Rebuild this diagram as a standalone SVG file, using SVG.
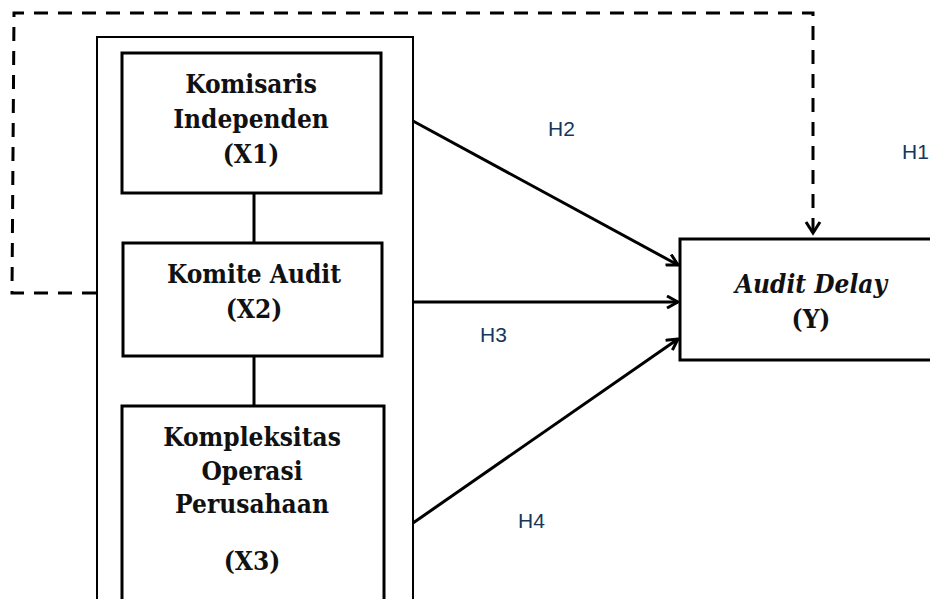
<svg xmlns="http://www.w3.org/2000/svg" width="930" height="599" viewBox="0 0 930 599">
<defs>
<style>
.box{fill:#fff;stroke:#000;stroke-width:3}
.frame{fill:none;stroke:#000;stroke-width:2}
.t{font-family:"DejaVu Serif Condensed","DejaVu Serif","Liberation Serif",serif;font-stretch:condensed;font-weight:bold;font-size:26px;fill:#111;text-anchor:middle}
.it{font-style:italic}
.h{font-family:"Liberation Sans",Arial,sans-serif;font-size:21px;fill:#17365D}
.ln{stroke:#000;stroke-width:3;fill:none}
.dash{stroke:#000;stroke-width:3;fill:none;stroke-dasharray:14 10}
</style>
<marker id="arr" markerWidth="14" markerHeight="14" refX="12" refY="7" orient="auto" markerUnits="userSpaceOnUse">
<path d="M1,1 L12,7 L1,13" fill="none" stroke="#000" stroke-width="3"/>
</marker>
</defs>
<rect width="930" height="599" fill="#fff"/>
<g id="frame">
<path class="frame" d="M97,599 L97,37 L413,37 L413,599"/>
</g>
<g id="connectors">
<path class="dash" d="M96,293 L12,293 L14,13 L813,13 L813,232"/>
<path d="M806,222 L813,233 L820,222" fill="none" stroke="#000" stroke-width="3"/>
<line class="ln" x1="254" y1="193" x2="254" y2="243"/>
<line class="ln" x1="254" y1="356" x2="254" y2="406"/>
<line class="ln" x1="413" y1="121" x2="678" y2="265" marker-end="url(#arr)"/>
<line class="ln" x1="413" y1="302" x2="678" y2="302" marker-end="url(#arr)"/>
<line class="ln" x1="413" y1="523" x2="678" y2="339" marker-end="url(#arr)"/>
</g>
<g id="x1">
<rect class="box" x="122" y="53" width="259" height="140"/>
<text class="t" x="251" y="93">Komisaris</text>
<text class="t" x="251" y="128">Independen</text>
<text class="t" x="251" y="163">(X1)</text>
</g>
<g id="x2">
<rect class="box" x="123" y="243" width="259" height="113"/>
<text class="t" x="254" y="283">Komite Audit</text>
<text class="t" x="254" y="318">(X2)</text>
</g>
<g id="x3">
<rect class="box" x="122" y="406" width="262" height="200"/>
<text class="t" x="252" y="446">Kompleksitas</text>
<text class="t" x="252" y="480">Operasi</text>
<text class="t" x="252" y="513">Perusahaan</text>
<text class="t" x="252" y="570">(X3)</text>
</g>
<g id="y">
<rect class="box" x="680" y="239" width="260" height="121"/>
<text class="t it" x="811" y="293">Audit Delay</text>
<text class="t" x="811" y="328">(Y)</text>
</g>
<g id="labels">
<text class="h" x="548" y="136">H2</text>
<text class="h" x="480" y="342">H3</text>
<text class="h" x="518" y="528">H4</text>
<text class="h" x="902" y="159">H1</text>
</g>
</svg>
